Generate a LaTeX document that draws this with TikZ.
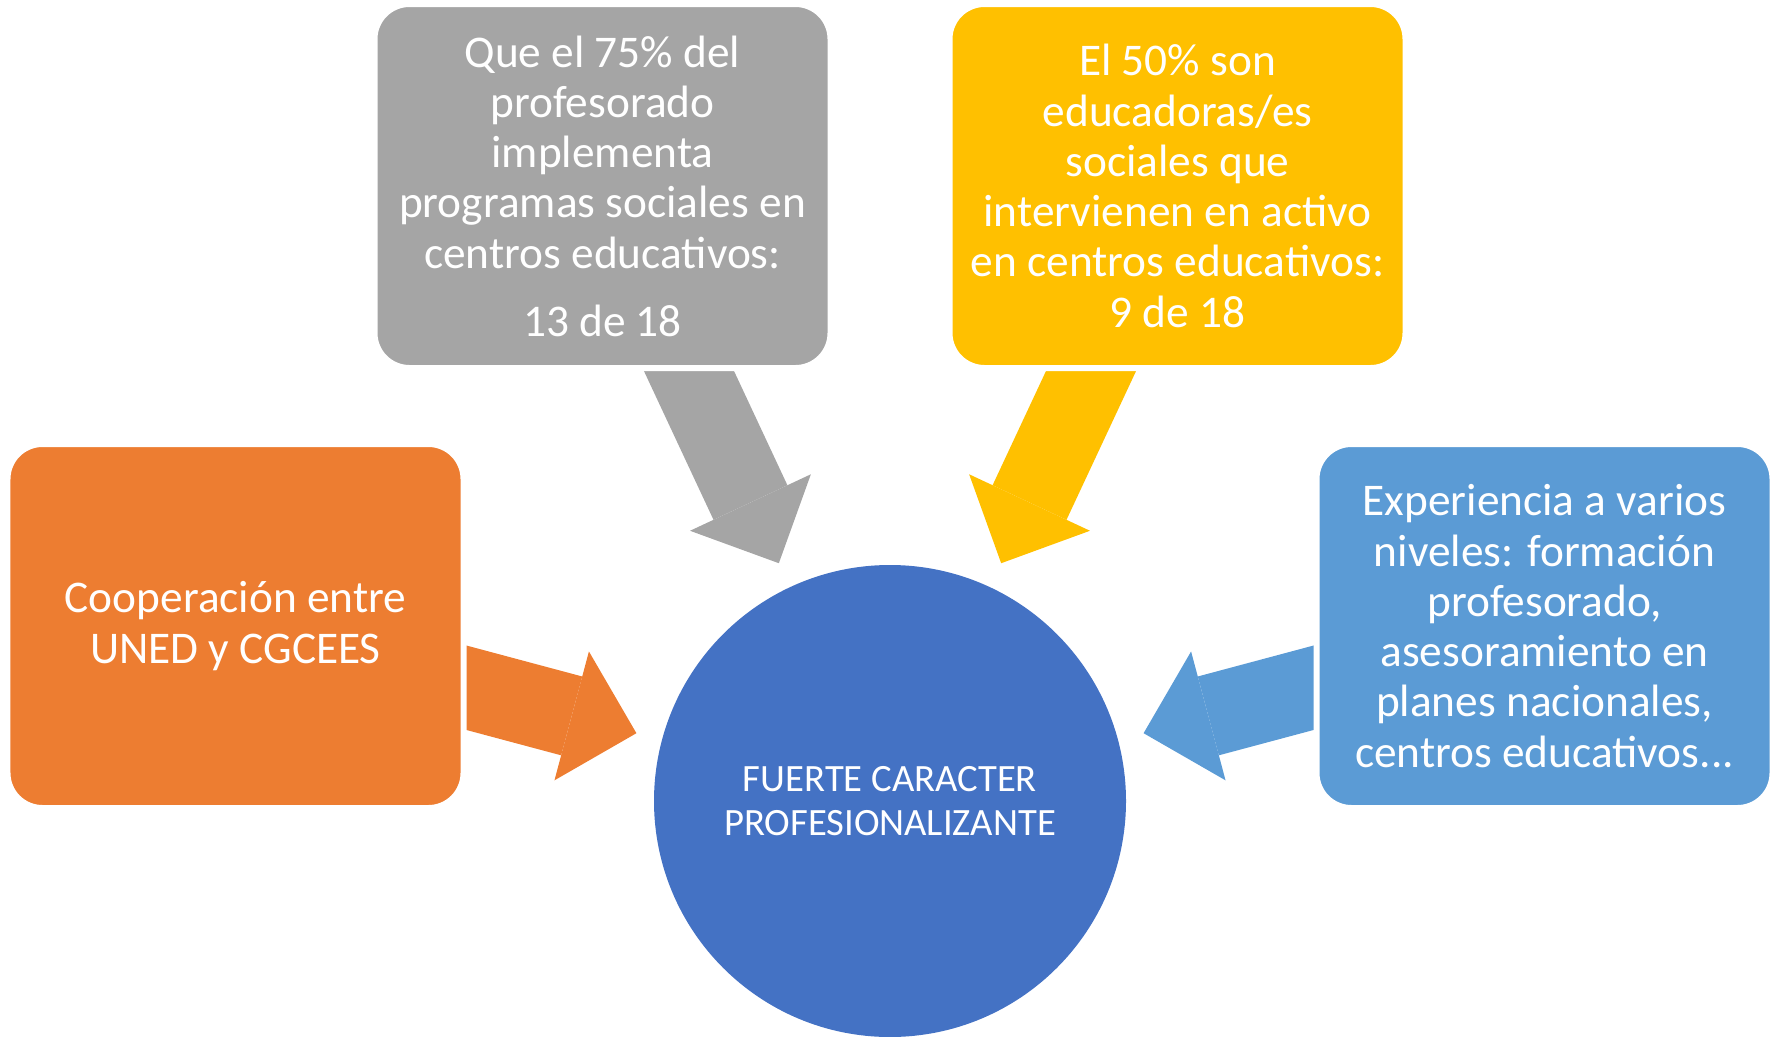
\documentclass[tikz,border=0pt]{standalone}
\usepackage{fontspec}
\setmainfont{Carlito}
\usetikzlibrary{arrows.meta,backgrounds}
\definecolor{ora}{HTML}{ED7D31}
\definecolor{gry}{HTML}{A5A5A5}
\definecolor{ylw}{HTML}{FFC000}
\definecolor{blu}{HTML}{5B9BD5}
\definecolor{hubc}{HTML}{4472C4}
\begin{document}
\begin{tikzpicture}[%
  card/.style={fill=#1,draw=white,line width=.6mm,rounded corners=3.5mm,
    minimum width=4.56cm,minimum height=3.64cm,outer sep=0pt,inner sep=2pt,
    text=white,align=center,font=\fontsize{12.9}{14.3}\selectfont},
  core/.style={circle,fill=hubc,minimum size=4.72cm,inner sep=0pt,outer sep=0pt,
    text=white,align=center,font=\fontsize{11}{12.7}\selectfont},
  push/.style={draw=#1,line width=8.16mm,shorten <=-4mm,shorten >=2.65mm,
    -{Triangle[width=13.34mm,length=6.7mm,line width=0pt]}}]
  \useasboundingbox (0,0) rectangle (17.75,-10.36);
  \node[core] (hub) at (8.9,-8.01) {FUERTE CARACTER\\PROFESIONALIZANTE};
  \node[card=gry] (prof) at (6.025,-1.86) {Que el 75\% del\\profesorado\\implementa\\
    programas sociales en\\centros educativos:\\[5pt]13 de 18};
  \node[card=ylw] (educ) at (11.775,-1.86) {El 50\% son\\educadoras/es\\sociales que\\
    intervienen en activo\\en centros educativos:\\9 de 18};
  \node[card=ora] (coop) at (2.355,-6.26) {Cooperación entre\\UNED y CGCEES};
  \node[card=blu] (expe) at (15.445,-6.26) {Experiencia a varios\\niveles: formación\\
    profesorado,\\asesoramiento en\\planes nacionales,\\centros educativos...};
  % block arrows under the boxes
  \begin{scope}[on background layer]
    \draw[push=gry] (prof) -- (hub);
    \draw[push=ylw] (educ) -- (hub);
    \draw[push=ora] (coop) -- (hub);
    \draw[push=blu] (expe) -- (hub);
  \end{scope}
\end{tikzpicture}
\end{document}
